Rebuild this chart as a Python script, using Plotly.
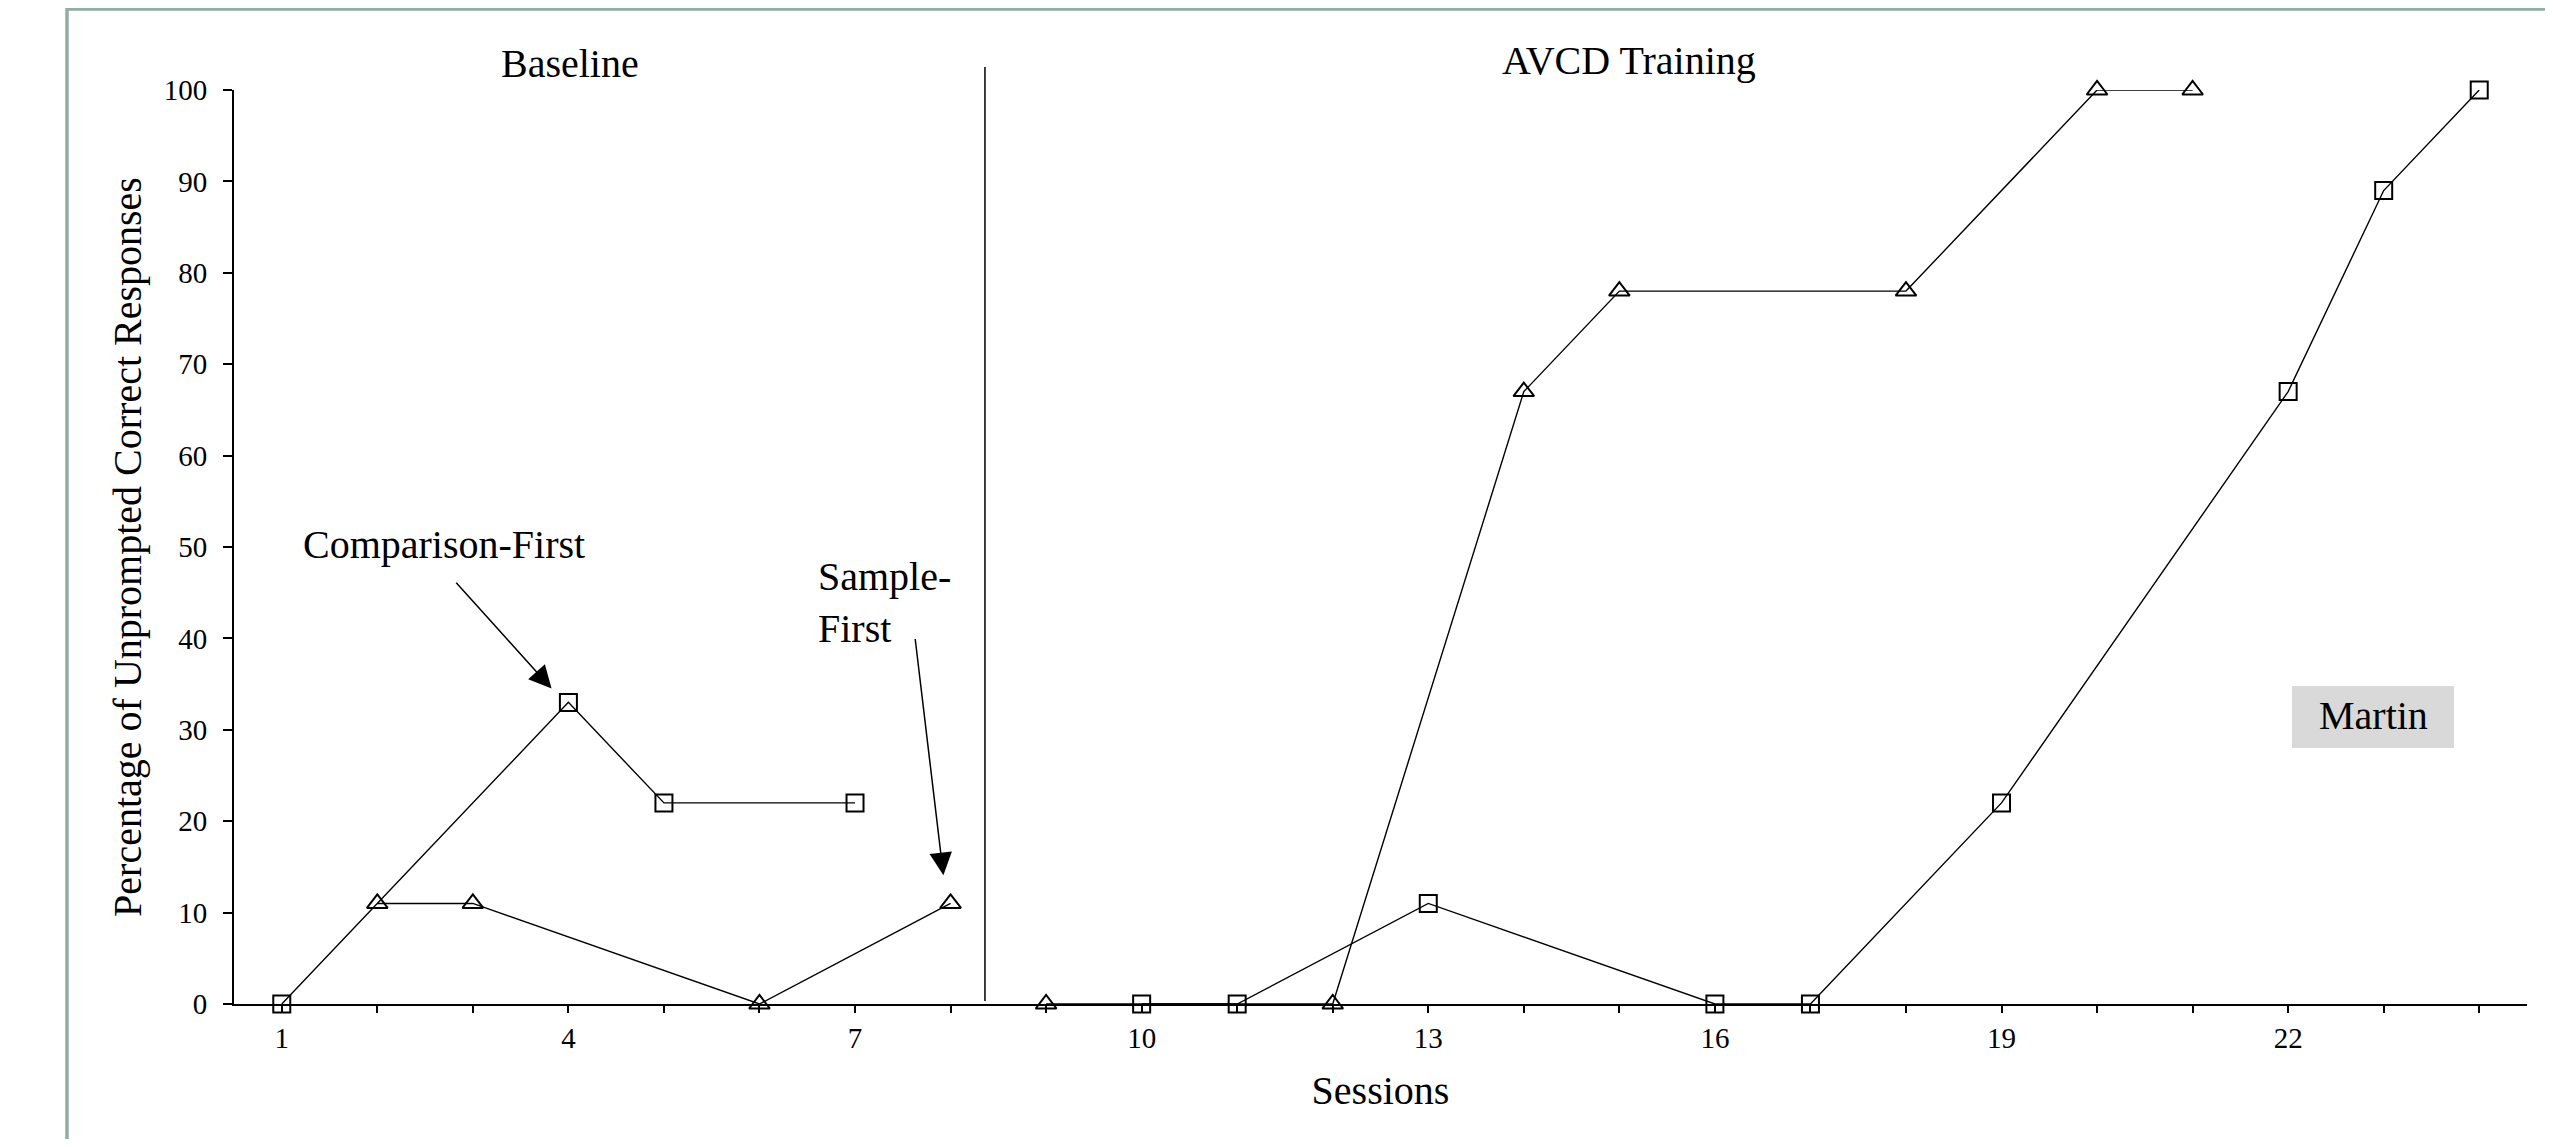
import plotly.graph_objects as go

# ---- data ----
cf_base_sessions = [1, 4, 5, 7]
cf_base_values = [0, 33, 22, 22]
cf_train_sessions = [10, 11, 13, 16, 17, 19, 22, 23, 24]
cf_train_values = [0, 0, 11, 0, 0, 22, 67, 89, 100]

sf_base_sessions = [2, 3, 6, 8]
sf_base_values = [11, 11, 0, 11]
sf_train_sessions = [9, 12, 14, 15, 18, 20, 21]
sf_train_values = [0, 0, 67, 78, 78, 100, 100]

x_tick_sessions = list(range(1, 25))
x_tick_labels = [str(s) if (s - 1) % 3 == 0 else "" for s in x_tick_sessions]
y_tick_values = list(range(0, 101, 10))

phase_change = 8.36
x_range = [0.5, 24.5]
y_range = [0, 100]

FONT = "Liberation Serif"
OFF = 8  # page body margin
W, H = 2553 - 2 * OFF, 1147 - 2 * OFF
ML, MT = 234 - OFF, 90 - OFF
MR = W - (2527 - OFF)
MB = H - (1004 - OFF)

fig = go.Figure()

line_style = dict(color="black", width=1.4)
sq = dict(symbol="square-open", size=17, color="black", line=dict(width=2, color="black"))
tri = dict(symbol="triangle-up-open", size=18, color="black", line=dict(width=2, color="black"))

fig.add_trace(go.Scatter(x=cf_base_sessions, y=cf_base_values, mode="lines+markers",
                         line=line_style, marker=sq, name="Comparison-First", showlegend=False,
                         cliponaxis=False))
fig.add_trace(go.Scatter(x=cf_train_sessions, y=cf_train_values, mode="lines+markers",
                         line=line_style, marker=sq, name="Comparison-First", showlegend=False,
                         cliponaxis=False))
fig.add_trace(go.Scatter(x=sf_base_sessions, y=sf_base_values, mode="lines+markers",
                         line=line_style, marker=tri, name="Sample-First", showlegend=False,
                         cliponaxis=False))
fig.add_trace(go.Scatter(x=sf_train_sessions, y=sf_train_values, mode="lines+markers",
                         line=line_style, marker=tri, name="Sample-First", showlegend=False,
                         cliponaxis=False))

plot_w = W - ML - MR
plot_h = H - MT - MB

def px_x(px):
    return (px - OFF - ML) / plot_w

def px_y(py):
    return (H - MB - (py - OFF)) / plot_h

phase_paper = (phase_change - x_range[0]) / (x_range[1] - x_range[0])

shapes = [
    # phase-change line
    dict(type="line", xref="paper", yref="paper", x0=phase_paper, x1=phase_paper,
         y0=px_y(1001), y1=px_y(67), line=dict(color="black", width=1.5)),
    # outer frame
    dict(type="rect", xref="paper", yref="paper", x0=px_x(67), x1=px_x(2700),
         y0=px_y(1400), y1=px_y(9), line=dict(color="#93aca5", width=3.5),
         fillcolor="rgba(0,0,0,0)", layer="below"),
    # name box
    dict(type="rect", xref="paper", yref="paper", x0=px_x(2292), x1=px_x(2454),
         y0=px_y(748), y1=px_y(686), line=dict(width=0), fillcolor="#d9d9d9", layer="below"),
]

big = dict(family=FONT, size=40, color="black")
annotations = [
    dict(text="Baseline", x=4.02, xref="x", y=px_y(63), yref="paper",
         showarrow=False, font=big, xanchor="center", yanchor="middle"),
    dict(text="AVCD Training", x=15.1, xref="x", y=px_y(60), yref="paper",
         showarrow=False, font=big, xanchor="center", yanchor="middle"),
    dict(text="Comparison-First", x=px_x(443.7), xref="paper", y=px_y(544), yref="paper",
         showarrow=False, font=big, xanchor="center", yanchor="middle"),
    dict(text="Sample-<br>First", x=px_x(816), xref="paper", y=px_y(602), yref="paper",
         showarrow=False, font=big, xanchor="left", yanchor="middle", align="left"),
    dict(text="Martin", x=px_x(2373), xref="paper", y=px_y(715), yref="paper",
         showarrow=False, font=big, xanchor="center", yanchor="middle"),
    # arrows
    dict(text="", x=3.824, y=34.52, xref="x", yref="y", ax=2.812, ay=46.25,
         axref="x", ayref="y", showarrow=True, arrowhead=2, arrowsize=3, arrowwidth=1.5,
         arrowcolor="black"),
    dict(text="", x=7.925, y=14.1, xref="x", yref="y", ax=7.628, ay=40.1,
         axref="x", ayref="y", showarrow=True, arrowhead=2, arrowsize=3, arrowwidth=1.5,
         arrowcolor="black"),
]

fig.update_layout(
    width=W, height=H,
    margin=dict(l=ML, r=MR, t=MT, b=MB, pad=0),
    paper_bgcolor="white", plot_bgcolor="white",
    font=dict(family=FONT, color="black"),
    shapes=shapes, annotations=annotations,
    showlegend=False,
)

fig.update_xaxes(
    range=x_range, tickmode="array", tickvals=x_tick_sessions, ticktext=x_tick_labels,
    ticks="outside", ticklen=7, tickwidth=2, tickcolor="black",
    showline=True, linecolor="black", linewidth=2, showgrid=False, zeroline=False,
    tickfont=dict(family=FONT, size=29, color="black"),
    title=dict(text="Sessions", font=big, standoff=23),
    automargin=False,
)
fig.update_yaxes(
    range=y_range, tickmode="array", tickvals=y_tick_values,
    ticks="outside", ticklen=9, tickwidth=2, tickcolor="black",
    showline=True, linecolor="black", linewidth=2, showgrid=False, zeroline=False,
    tickfont=dict(family=FONT, size=29, color="black"), ticklabelstandoff=10,
    title=dict(text="Percentage of Unprompted Correct Responses", font=big, standoff=10),
    automargin=False,
)

fig.write_html("out.html")
